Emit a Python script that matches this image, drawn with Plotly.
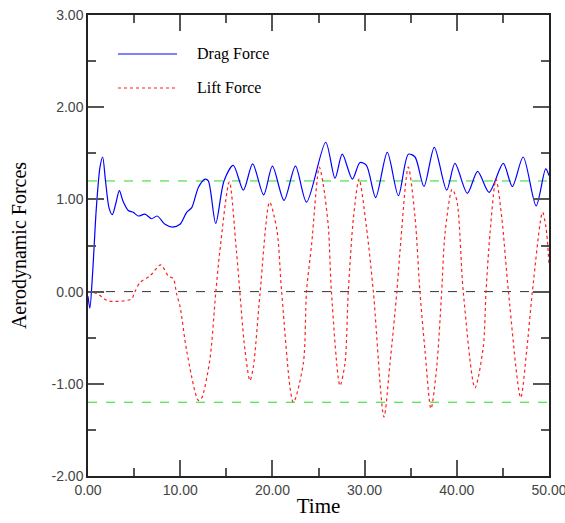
import plotly.graph_objects as go

# Drag force samples (time, value)
drag_t = [0.0, 0.2, 0.5, 0.9, 1.3, 1.59, 1.9, 2.3, 2.64, 3.0, 3.4, 3.8, 4.37, 4.9, 5.46, 6.18, 6.9, 7.5, 8.35, 9.18,
          9.98, 10.7, 11.25, 11.97, 12.69, 13.05, 13.85, 14.75, 15.76, 16.85, 17.86, 19.05, 20.0, 21.26, 22.5,
          23.7, 25.78, 26.79, 27.58, 28.67, 29.5, 30.2, 31.2, 32.46, 33.66, 34.74, 35.47, 36.44, 37.56, 38.9,
          39.8, 41.14, 42.26, 43.5, 45.04, 46.02, 47.2, 48.6, 49.64, 50.0]
drag_v = [-0.05, -0.18, 0.2, 0.9, 1.35, 1.46, 1.2, 0.9, 0.835, 0.95, 1.095, 0.98, 0.88, 0.86, 0.82, 0.84, 0.79, 0.82, 0.73, 0.70,
          0.73, 0.86, 0.91, 1.13, 1.22, 1.20, 0.74, 1.20, 1.37, 1.10, 1.385, 1.05, 1.36, 0.99, 1.36,
          0.97, 1.62, 1.23, 1.49, 1.22, 1.40, 1.37, 1.02, 1.51, 1.04, 1.49, 1.46, 1.14, 1.565, 1.10,
          1.39, 1.066, 1.305, 1.077, 1.39, 1.14, 1.46, 0.93, 1.33, 1.26]

# Lift force samples (time, value)
lift_t = [0.0, 0.94, 2.2, 4.7, 5.1, 5.64, 6.72, 7.9, 8.7, 9.25, 9.6, 10.0, 10.7, 11.97, 12.3, 13.2, 13.85, 14.3,
          15.33, 16.1, 17.03, 17.57, 17.93, 18.65, 19.7, 20.5, 21.0, 22.27, 23.35, 23.7, 24.26, 25.09, 25.5,
          26.07, 26.4, 27.33, 27.87, 28.23, 28.8, 29.4, 30.2, 30.95, 32.1, 32.75, 33.5, 33.84, 34.74, 35.47,
          36.0, 36.55, 37.2, 37.82, 38.36, 38.72, 39.5, 40.0, 40.7, 41.97, 42.87, 43.17, 43.6, 44.25, 44.87,
          45.6, 46.93, 47.58, 48.2, 49.3, 49.67, 50.0]
lift_v = [0.0, -0.02, -0.10, -0.08, 0.0, 0.10, 0.17, 0.29, 0.17, 0.14, -0.02, -0.17, -0.64, -1.18, -1.16, -0.75, -0.02, 0.44,
          1.19, 0.44, -0.64, -0.965, -0.82, -0.03, 0.97, 0.66, 0.0, -1.2, -0.78, 0.0, 0.52, 1.35, 1.17,
          0.70, 0.0, -1.02, -0.78, 0.0, 0.81, 1.22, 0.70, 0.0, -1.36, -0.78, 0.0, 0.44, 1.35, 0.81,
          0.0, -0.64, -1.27, -0.82, 0.0, 0.63, 1.11, 0.99, 0.0, -1.045, -0.60, 0.0, 0.63, 1.22, 0.81,
          0.0, -1.15, -0.64, 0.0, 0.86, 0.70, 0.30]

ref_levels = [1.2, 0.0, -1.2]
ref_colors = ["#22dd22", "#333333", "#22dd22"]

x_ticks = [0, 10, 20, 30, 40, 50]
x_labels = ["0.00", "10.00", "20.00", "30.00", "40.00", "50.00"]
y_ticks = [-2, -1, 0, 1, 2, 3]
y_labels = ["-2.00", "-1.00", "0.00", "1.00", "2.00", "3.00"]

series_names = ["Drag Force", "Lift Force"]
series_colors = ["#0000ff", "#ff2020"]
series_dash = ["solid", "dot"]

fig = go.Figure()
for lvl, col in zip(ref_levels, ref_colors):
    fig.add_trace(go.Scatter(x=[0, 50], y=[lvl, lvl], mode="lines", showlegend=False,
                             line=dict(color=col, width=1, dash="dash"), hoverinfo="skip"))

fig.add_trace(go.Scatter(x=drag_t, y=drag_v, mode="lines", name=series_names[0], showlegend=False,
                         line=dict(color=series_colors[0], width=1.2, shape="spline", smoothing=0.8)))
fig.add_trace(go.Scatter(x=lift_t, y=lift_v, mode="lines", name=series_names[1], showlegend=False,
                         line=dict(color=series_colors[1], width=1.2, dash="dot", shape="spline", smoothing=0.8)))

# Manual legend (line samples + labels) in paper coordinates
plot_w, plot_h = 461, 461
legend_rows_px = [54, 88]  # pixel rows from top of figure
for name, col, dsh, ypx in zip(series_names, series_colors, series_dash, legend_rows_px):
    yp = 1 - (ypx - 15) / plot_h
    fig.add_shape(type="line", xref="paper", yref="paper",
                  x0=(118 - 88) / plot_w, x1=(177 - 88) / plot_w, y0=yp, y1=yp,
                  line=dict(color=col, width=1.2, dash=dsh))
    fig.add_annotation(xref="paper", yref="paper", x=(195 - 88) / plot_w, y=yp, text=name,
                       showarrow=False, xanchor="left", yanchor="middle",
                       font=dict(family="Liberation Serif, Times New Roman", size=16, color="black"))

axis_common = dict(showgrid=False, zeroline=False, showline=True, linecolor="#222222", linewidth=1.5,
                   mirror="ticks", ticks="inside", ticklen=16, tickwidth=1.5, tickcolor="#555555",
                   automargin=False, ticklabeloverflow="allow",
                   tickfont=dict(family="Liberation Sans, Arial", size=14, color="#444444"))

fig.update_xaxes(range=[0, 50], tickvals=x_ticks, ticktext=x_labels,
                 minor=dict(ticks="inside", ticklen=8, dtick=5, tick0=0, tickcolor="#555555", tickwidth=1.5),
                 title=dict(text="Time", font=dict(family="Liberation Serif, Times New Roman", size=21, color="black"),
                            standoff=2),
                 **axis_common)
fig.update_yaxes(range=[-2, 3], tickvals=y_ticks, ticktext=y_labels,
                 minor=dict(ticks="inside", ticklen=8, dtick=0.5, tick0=0, tickcolor="#555555", tickwidth=1.5),
                 title=dict(text="Aerodynamic Forces", font=dict(family="Liberation Serif, Times New Roman", size=20, color="black"),
                            standoff=20),
                 **axis_common)

fig.update_layout(
    width=565, height=523,
    margin=dict(l=88, r=16, t=15, b=47),
    plot_bgcolor="white", paper_bgcolor="white",
    showlegend=False,
)

fig.write_html("out.html", config={"displayModeBar": False},
               post_script="document.body.style.margin='0px';")
